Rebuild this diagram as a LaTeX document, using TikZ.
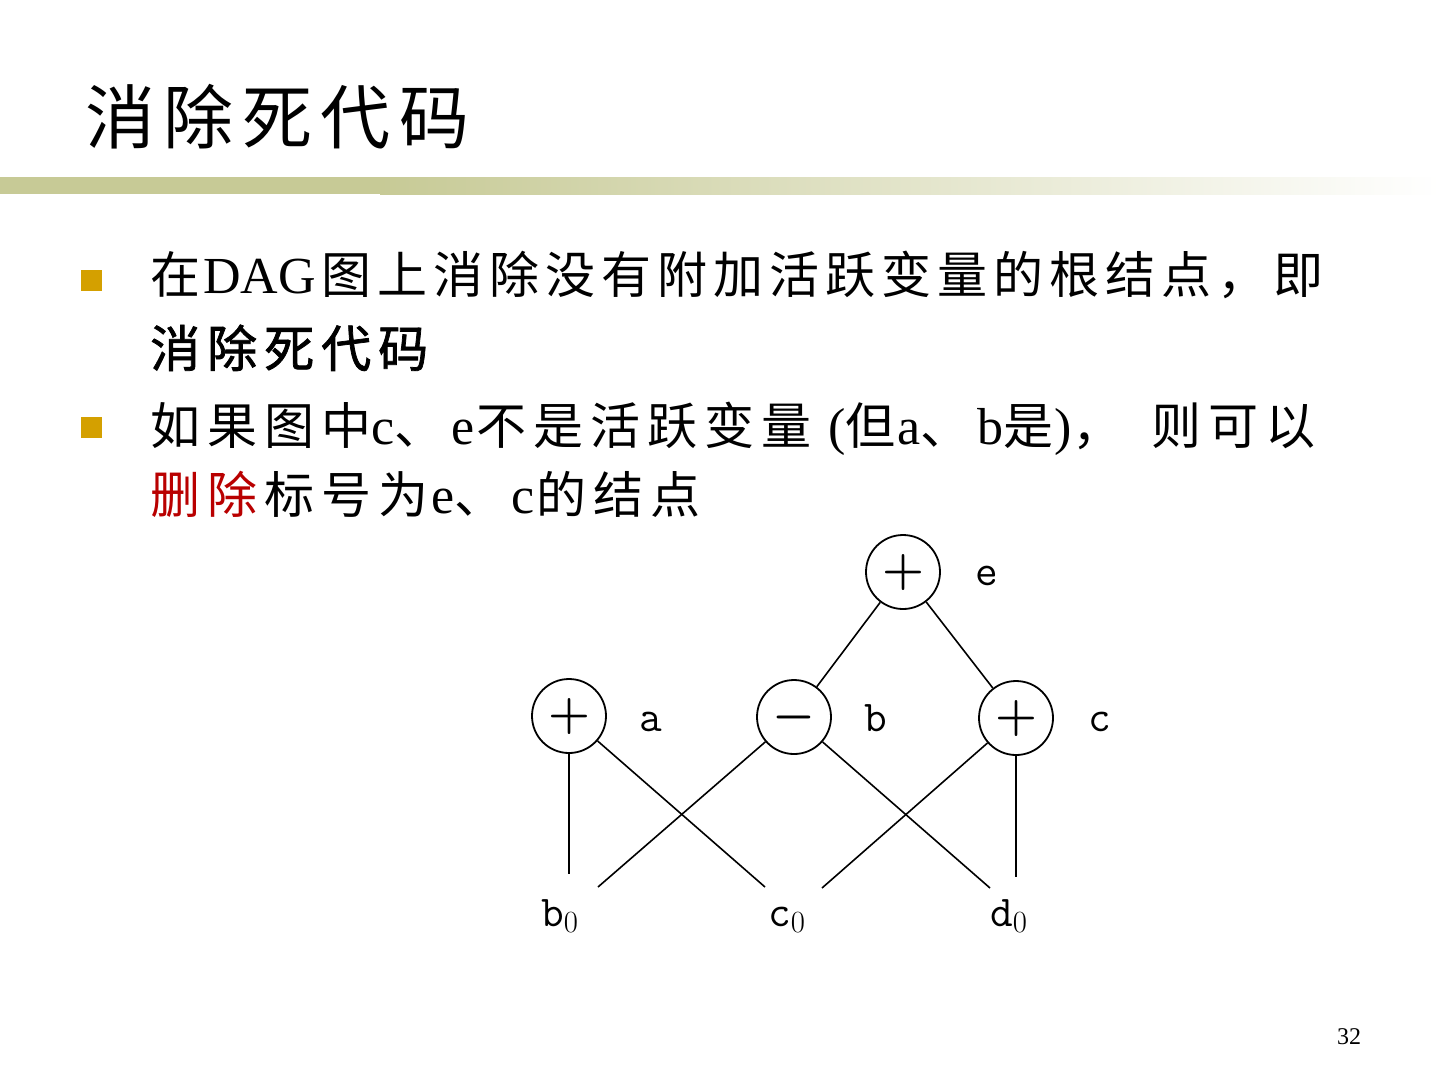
\documentclass[tikz,border=0pt]{standalone}
\usepackage{fix-cm}
\usepackage{fontspec}
\newfontfamily\tnr{Liberation Serif}
\newfontfamily\cjkf{Noto Sans CJK SC}
\newfontfamily\cjkb{Noto Sans CJK SC}[FakeBold=1.5]
\definecolor{barolive}{RGB}{199,202,150}
\definecolor{bulletgold}{RGB}{212,160,0}
\definecolor{delred}{RGB}{185,0,0}
\makeatletter
\def\zhls{7pt}
\def\zhsz{}
\newcommand\zh[2][\cjkf]{\@tfor\zhc:=#2\do{{#1\zhsz\zhc}\hspace{\zhls}}}
\makeatother
\begin{document}
\begin{tikzpicture}[x=1pt,y=-1pt,
  opnode/.style={circle,draw,line width=1.8pt,minimum size=74pt,inner sep=0pt,font=\fontsize{48}{50}\selectfont\boldmath},
  varlab/.style={anchor=base,inner sep=0pt,font=\ttfamily\fontsize{44}{50}\selectfont\addfontfeature{FakeBold=3}},
  leaf/.style={anchor=base west,inner sep=0pt,font=\ttfamily\fontsize{44}{50}\selectfont\addfontfeature{FakeBold=3}},
  conn/.style={line width=1.6pt},
  bodytext/.style={anchor=base west,inner sep=0pt,font=\tnr\fontsize{52}{58}\selectfont\def\zhsz{\fontsize{50}{58}\selectfont}},
  bulletsq/.style={fill=bulletgold,minimum size=21pt,inner sep=0pt}
]
\useasboundingbox (0,0) rectangle (1440,1080);
\fill[white] (0,0) rectangle (1440,1080);
% title
\node[anchor=base west,inner sep=0pt,font=\fontsize{70}{80}\selectfont] (title) at (85,143) {\def\zhls{8.5pt}\zh{消除死代码}};
% bar
\fill[barolive] (0,177) rectangle (380,194);
\shade[left color=barolive,right color=white] (380,177) rectangle (1440,194);
% bullets
\node[bulletsq] (bul1) at (91,280) {};
\node[bulletsq] (bul2) at (91,427) {};
\node[bodytext] (l1) at (150,293) {\def\zhls{6pt}\zh{在}\hspace{-3pt}DAG\hspace{6pt}\zh{图上消除没有附加活跃变量的根结点，即}};
\node[bodytext] (l2) at (150,367) {\zh[\cjkb]{消除死代码}};
\node[bodytext] (l3) at (150,444) {\zh{如果图中}\hspace{-7pt}c\zh{、}e\hspace{2pt}\zh{不是活跃变量}\hspace{10pt}(\zh{但}\hspace{-5pt}a\zh{、}b\zh{是}\hspace{-6pt})\zh{，}\hspace{22pt}\zh{则可以}};
\node[bodytext] (l4) at (150,513) {{\color{delred}\zh{删除}}\zh{标号为}\hspace{-4pt}e\zh{、}c\hspace{2pt}\zh{的结点}};
% DAG
\node[opnode] (e) at (903,572) {$+$};
\node[opnode] (a) at (569,716) {$+$};
\node[opnode] (b) at (794,717) {$-$};
\node[opnode] (c) at (1016,718) {$+$};
\node[varlab] (le) at (987,585) {e};
\node[varlab] (la) at (651,731) {a};
\node[varlab] (lb) at (876,731) {b};
\node[varlab] (lc) at (1100,731) {c};
\node[leaf] (b0) at (541,926) {b$_0$};
\node[leaf] (c0) at (768,926) {c$_0$};
\node[leaf] (d0) at (990,926) {d$_0$};
\coordinate (av) at (569,874);
\coordinate (ac0) at (765,887);
\coordinate (bb0) at (598,887);
\coordinate (bd0) at (990,888);
\coordinate (cc0) at (822,888);
\coordinate (cv) at (1016,877);
\draw[conn] (e) -- (b);
\draw[conn] (e) -- (c);
\draw[conn] (a) -- (av);
\draw[conn] (a) -- (ac0);
\draw[conn] (b) -- (bb0);
\draw[conn] (b) -- (bd0);
\draw[conn] (c) -- (cc0);
\draw[conn] (c) -- (cv);
% page number
\node[anchor=base,inner sep=0pt,font=\tnr\fontsize{24}{28}\selectfont] (pg) at (1349,1044) {32};
\end{tikzpicture}
\end{document}
